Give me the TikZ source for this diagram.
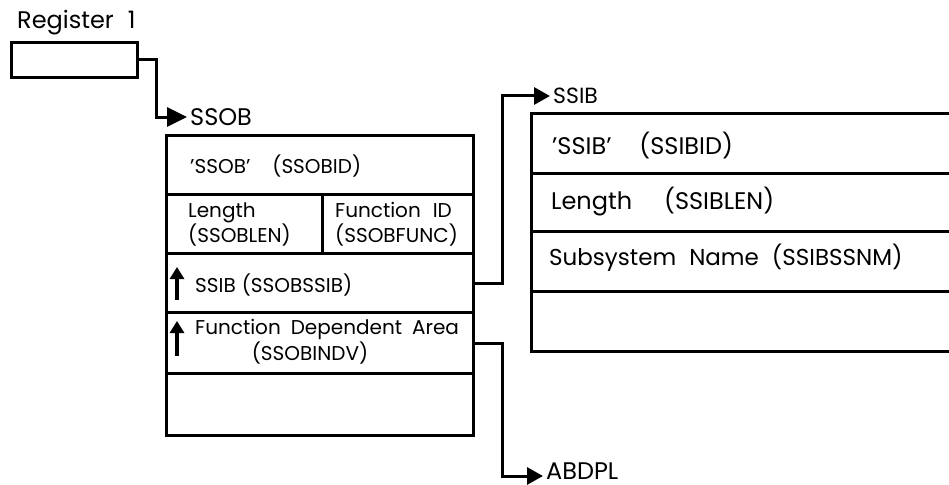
\documentclass[tikz,border=0pt]{standalone}
\usepackage{fontspec}
\setmainfont{Poppins}
\usetikzlibrary{arrows.meta}
\begin{document}
\begin{tikzpicture}[x=1pt,y=-1pt,
  box/.style={draw, line width=3pt, inner sep=0pt, anchor=north west},
  lbl/.style={anchor=west, inner sep=0pt, font=\fontsize{22}{26}\selectfont},
  obt/.style={anchor=west, inner sep=0pt, font=\fontsize{20}{25}\selectfont},
  ibt/.style={anchor=west, inner sep=0pt, font=\fontsize{24}{28}\selectfont},
  two/.style={obt, align=left},
  conn/.style={line width=3pt, -{Triangle[length=16pt,width=17pt]}, shorten >=3pt},
  ptr/.style={line width=3.6pt, -{Triangle[length=12pt,width=14pt]}}]
\useasboundingbox (0,0) rectangle (949,484);
\clip (0,0) rectangle (949,484);
% Register 1
\node[lbl, font=\fontsize{24}{28}\selectfont] (regt) at (17,23) {Register\hspace{14pt}1};
\node[box, minimum width=126pt, minimum height=35pt] (reg) at (10,41) {};
% SSOB
\node[lbl, font=\fontsize{24}{28}\selectfont] (ssobl) at (190,117) {SSOB};
\node[box, minimum width=307pt, minimum height=59pt] (ob1) at (165,134) {};
\node[box, minimum width=156pt, minimum height=59pt] (ob2a) at (165,193) {};
\node[box, minimum width=151pt, minimum height=59pt] (ob2b) at (321,193) {};
\node[box, minimum width=307pt, minimum height=59pt] (ob3) at (165,252) {};
\node[box, minimum width=307pt, minimum height=61pt] (ob4) at (165,311) {};
\node[box, minimum width=307pt, minimum height=62pt] (ob5) at (165,372) {};
\node[obt] (ob1t) at (190,166) {'SSOB'\hspace{22pt}(SSOBID)};
\node[two] (ob2at) at (188,224) {Length\\(SSOBLEN)};
\node[two] (ob2bt) at (335,224) {Function\hspace{12pt}ID\\(SSOBFUNC)};
\node[obt] (ob3t) at (195,285) {SSIB\hspace{6pt}(SSOBSSIB)};
\node[obt] (ob4t) at (195,329) {Function\hspace{10pt}Dependent\hspace{10pt}Area};
\node[obt, anchor=center] (ob4u) at (310,353) {(SSOBINDV)};
\draw[ptr] (177,300) -- (177,267);
\draw[ptr] (177,356) -- (177,321);
% SSIB
\node[lbl] (ssibl) at (553,96) {SSIB};
\node[box, minimum width=480pt, minimum height=60pt] (ib1) at (530,112) {};
\node[box, minimum width=480pt, minimum height=58pt] (ib2) at (530,172) {};
\node[box, minimum width=480pt, minimum height=60pt] (ib3) at (530,230) {};
\node[box, minimum width=480pt, minimum height=60pt] (ib4) at (530,290) {};
\node[ibt] (ib1t) at (552,146) {'SSIB'\hspace{28pt}(SSIBID)};
\node[ibt] (ib2t) at (551,202) {Length\hspace{32pt}(SSIBLEN)};
\node[ibt, font=\fontsize{23}{27}\selectfont] (ib3t) at (549,258) {Subsystem\hspace{13pt}Name\hspace{13pt}(SSIBSSNM)};
% ABDPL
\node[lbl, font=\fontsize{24}{28}\selectfont, anchor=base west] (abdpl) at (546,479) {ABDPL};
% connectors
\draw[conn, -{Triangle[length=20pt,width=19pt]}] (reg.east) -- ++(17,0) |- (ssobl.west);
\draw[conn] (ob3.east) -- ++(27,0) |- (ssibl.west);
\draw[conn] (ob4.east) -- ++(27,0) |- ([yshift=3pt]abdpl.base west);
\end{tikzpicture}
\end{document}
